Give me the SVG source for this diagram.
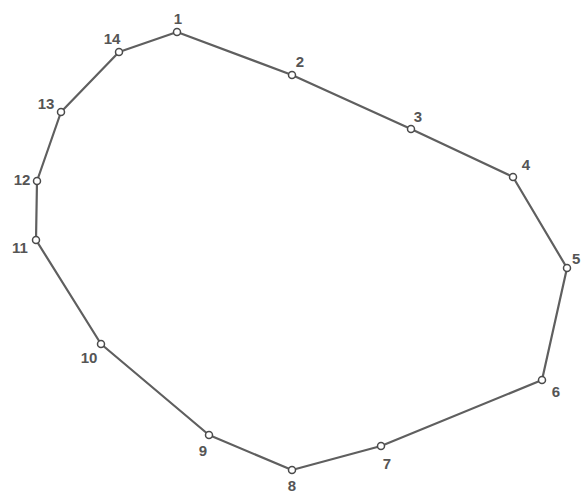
<svg xmlns="http://www.w3.org/2000/svg" width="582" height="493" viewBox="0 0 582 493">
<style>
.edge{fill:none;stroke:#5f5f5f;stroke-width:2.2;stroke-linejoin:round}
.pt{fill:#fff;stroke:#4a4a4a;stroke-width:1.5}
.lbl{font-family:"Liberation Sans",Arial,sans-serif;font-size:15px;font-weight:bold;fill:#555}
</style>
<rect width="582" height="493" fill="#fff"/>
<g id="connectors">
<polygon class="edge" points="177,32 292,75 411,129 513,177 567,268 542,380 381,446 292,470 209,435 101,344 36,240 37,181 61,112 119,52"/>
</g>
<g id="n1"><circle class="pt" cx="177" cy="32" r="3.5"/><text class="lbl" x="178" y="24" text-anchor="middle">1</text></g>
<g id="n2"><circle class="pt" cx="292" cy="75" r="3.5"/><text class="lbl" x="300" y="67" text-anchor="middle">2</text></g>
<g id="n3"><circle class="pt" cx="411" cy="129" r="3.5"/><text class="lbl" x="418" y="122" text-anchor="middle">3</text></g>
<g id="n4"><circle class="pt" cx="513" cy="177" r="3.5"/><text class="lbl" x="526" y="170" text-anchor="middle">4</text></g>
<g id="n5"><circle class="pt" cx="567" cy="268" r="3.5"/><text class="lbl" x="572" y="264">5</text></g>
<g id="n6"><circle class="pt" cx="542" cy="380" r="3.5"/><text class="lbl" x="556" y="397" text-anchor="middle">6</text></g>
<g id="n7"><circle class="pt" cx="381" cy="446" r="3.5"/><text class="lbl" x="387" y="469" text-anchor="middle">7</text></g>
<g id="n8"><circle class="pt" cx="292" cy="470" r="3.5"/><text class="lbl" x="292" y="491" text-anchor="middle">8</text></g>
<g id="n9"><circle class="pt" cx="209" cy="435" r="3.5"/><text class="lbl" x="203" y="456" text-anchor="middle">9</text></g>
<g id="n10"><circle class="pt" cx="101" cy="344" r="3.5"/><text class="lbl" x="89" y="363" text-anchor="middle">10</text></g>
<g id="n11"><circle class="pt" cx="36" cy="240" r="3.5"/><text class="lbl" x="20" y="253" text-anchor="middle">11</text></g>
<g id="n12"><circle class="pt" cx="37" cy="181" r="3.5"/><text class="lbl" x="22" y="185" text-anchor="middle">12</text></g>
<g id="n13"><circle class="pt" cx="61" cy="112" r="3.5"/><text class="lbl" x="46" y="109" text-anchor="middle">13</text></g>
<g id="n14"><circle class="pt" cx="119" cy="52" r="3.5"/><text class="lbl" x="112" y="44" text-anchor="middle">14</text></g>
</svg>
